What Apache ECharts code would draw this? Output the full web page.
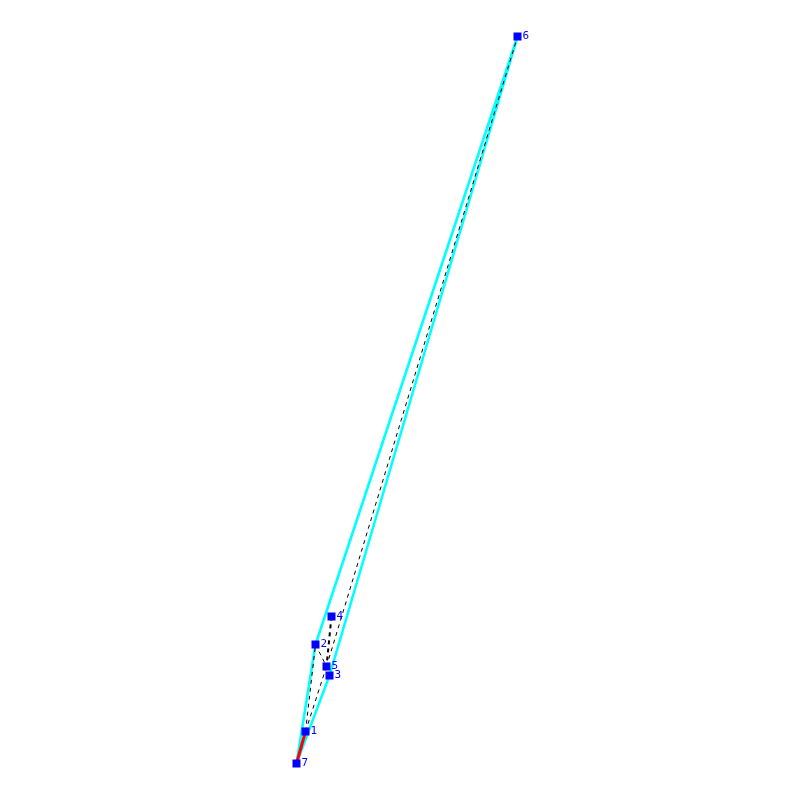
<!DOCTYPE html>
<html>
<head>
<meta charset="utf-8">
<style>
html, body { margin: 0; padding: 0; background: #fff; }
#chart { width: 800px; height: 800px; }
</style>
<script src="https://cdn.jsdelivr.net/npm/echarts@6/dist/echarts.min.js"></script>
</head>
<body>
<div id="chart"></div>
<script>
// nodes
var nodeNames = ['1', '2', '3', '4', '5', '6', '7'];
var nodeX = [305.5, 315.5, 329.5, 331.5, 326.5, 517.5, 296.5];
var nodeY = [731.5, 644.5, 675.5, 616.5, 666.5, 36.5, 763.5];

// edges as pairs of node names
var hullEdges = [['7', '2'], ['2', '6'], ['6', '3'], ['3', '7']];
var thinDashEdges = [['1', '2'], ['1', '5'], ['2', '5'], ['5', '6'], ['1', '7']];
var thickDashEdges = [['4', '5']];
var pathEdges = [['7', '1']];

var nodes = nodeNames.map(function (name, i) {
    return { name: name, value: [nodeX[i], nodeY[i]] };
});

function edgeSeries(edges, lineStyle, z) {
    return {
        type: 'graph',
        coordinateSystem: 'cartesian2d',
        layout: 'none',
        z: z,
        silent: true,
        symbolSize: 0,
        label: { show: false },
        data: nodes,
        links: edges.map(function (e) {
            return { source: e[0], target: e[1] };
        }),
        lineStyle: lineStyle
    };
}

var chart = echarts.init(document.getElementById('chart'), null, { renderer: 'canvas' });

chart.setOption({
    animation: false,
    backgroundColor: '#ffffff',
    grid: { left: 0, right: 0, top: 0, bottom: 0 },
    xAxis: { type: 'value', min: 0, max: 800, show: false },
    yAxis: { type: 'value', min: 0, max: 800, inverse: true, show: false },
    series: [
        edgeSeries(hullEdges, { color: '#00ffff', width: 2.6, opacity: 1, curveness: 0 }, 2),
        edgeSeries(thinDashEdges, { color: '#000000', width: 1, type: [4, 4], opacity: 1, curveness: 0 }, 3),
        edgeSeries(thickDashEdges, { color: '#000000', width: 2, type: [4, 4], opacity: 1, curveness: 0 }, 3),
        edgeSeries(pathEdges, { color: '#ff0000', width: 3, opacity: 1, curveness: 0 }, 4),
        {
            type: 'graph',
            coordinateSystem: 'cartesian2d',
            layout: 'none',
            z: 5,
            silent: true,
            symbol: 'rect',
            symbolSize: 8,
            itemStyle: { color: '#0000ff', opacity: 1 },
            label: {
                show: true,
                position: 'right',
                distance: 1,
                color: '#0000ff',
                fontFamily: 'DejaVu Sans Mono',
                fontSize: 11,
                formatter: '{b}'
            },
            data: nodes,
            links: []
        }
    ]
});
</script>
</body>
</html>
